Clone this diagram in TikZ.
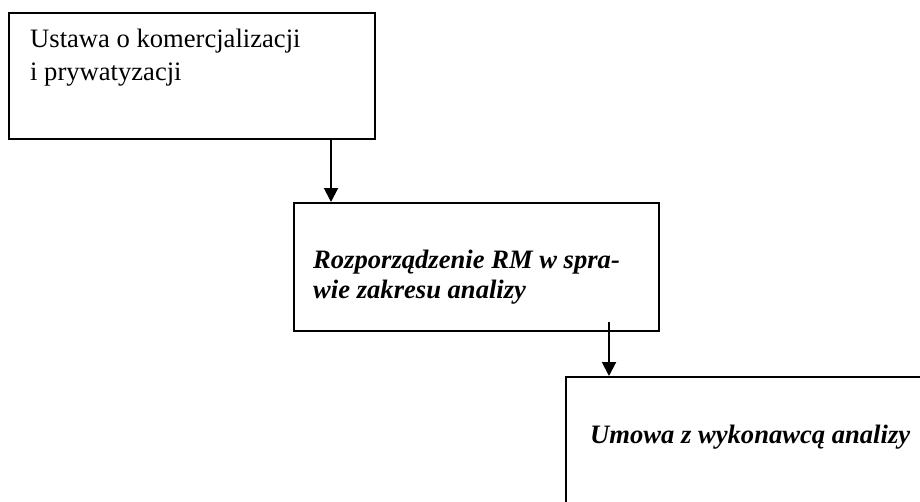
\documentclass[tikz,border=0pt]{standalone}
\usepackage{fontspec}
\setmainfont{Liberation Serif}
\usetikzlibrary{positioning}
\usetikzlibrary{arrows.meta}

\begin{document}
\begin{tikzpicture}
	[x=1pt, y=1pt,
	box/.style={draw, line width=1.5pt, anchor=north west, inner sep=0pt},
	txt/.style={anchor=base west, align=left, inner sep=0pt, font=\fontsize{26.6}{33}\selectfont},
	>={Triangle[width=14pt,length=14pt]}]
	
	\clip (0,0) rectangle (920,-501);
	
	% boxes
	\node [box, minimum width=366pt, minimum height=126pt] (law) at (8,-12) {};
	\node [box, minimum width=365pt, minimum height=128pt] (reg) at (293,-202) {};
	\node [box, minimum width=380pt, minimum height=150pt] (deal) at (565,-376) {};
	
	% texts (base = last line)
	\node [txt] (lawtext) at ([xshift=22pt,yshift=-68pt]law.north west) {Ustawa o komercjalizacji \\ i prywatyzacji};
	\node [txt, font=\fontsize{26.6}{30}\selectfont\bfseries\itshape] (regtext) at ([xshift=20pt,yshift=-96pt]reg.north west) {Rozporządzenie RM w spra- \\ wie zakresu analizy};
	\node [txt, font=\fontsize{26.6}{30}\selectfont\bfseries\itshape] (dealtext) at ([xshift=25pt,yshift=-67pt]deal.north west) {Umowa z wykonawcą analizy};
	
	% arrows
	\coordinate (lawout) at (331,-138);
	\coordinate (regout) at (609,-322);
	\draw [->, line width=2pt] (lawout) -- (lawout |- reg.north);
	\draw [->, line width=2pt] (regout) -- (regout |- deal.north);
\end{tikzpicture}
\end{document}
